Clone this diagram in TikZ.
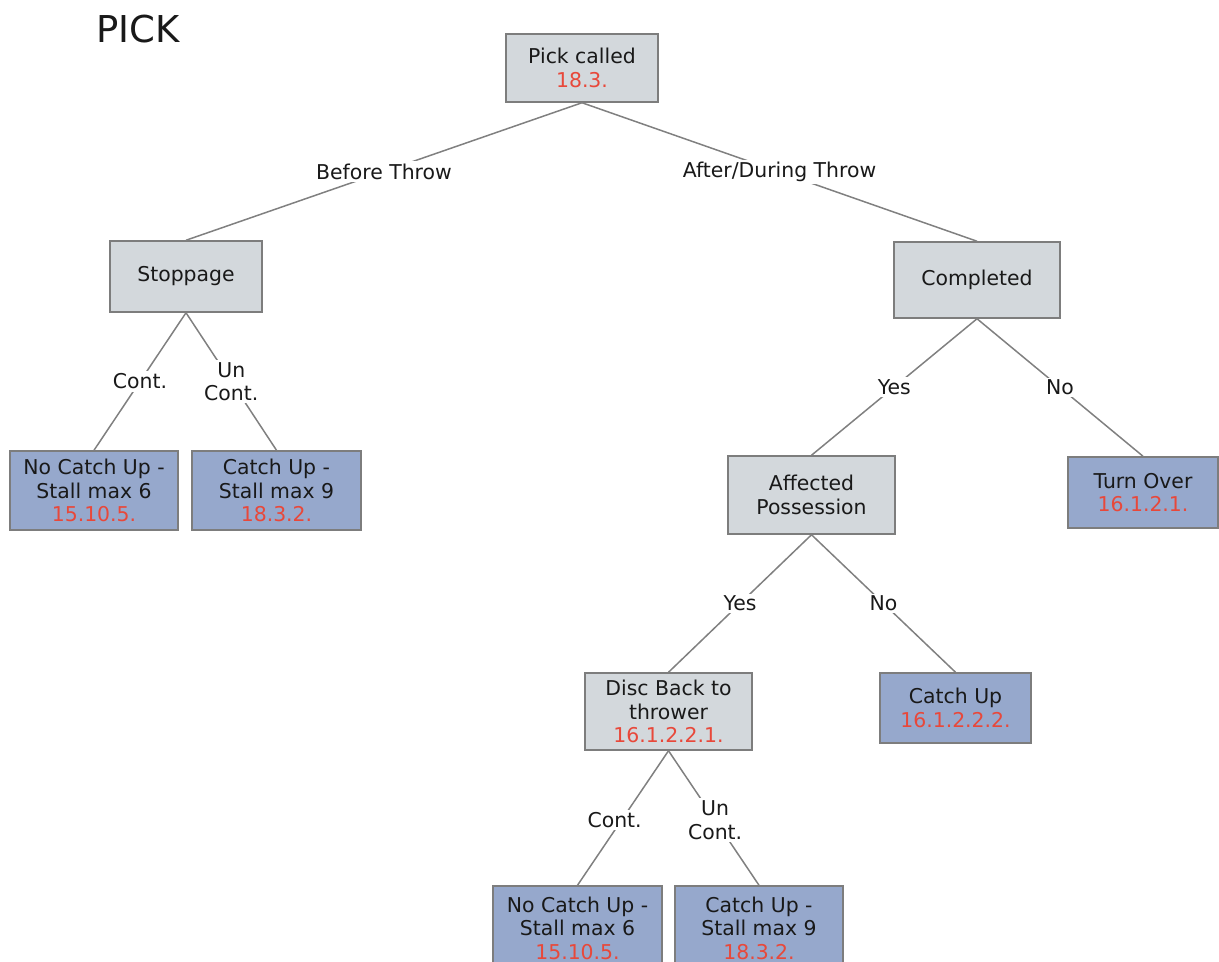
\documentclass[tikz,border=0pt]{standalone}
\usepackage{fontspec}
\setmainfont{DejaVu Sans}
\definecolor{greyfill}{RGB}{211,216,220}
\definecolor{bluefill}{RGB}{150,168,204}
\definecolor{boxline}{RGB}{125,125,125}
\definecolor{linkgrey}{RGB}{128,128,128}
\definecolor{rulered}{RGB}{232,72,58}
\definecolor{ink}{RGB}{25,25,25}
\newcommand\secnum[1]{\textcolor{rulered}{#1}}
\begin{document}
\begin{tikzpicture}[x=0.5pt,y=-0.5pt,
  box/.style={draw=boxline, line width=0.75pt, inner sep=0pt, align=center,
    text=ink, font=\fontsize{10.2}{11.75}\selectfont},
  greybox/.style={box, fill=greyfill},
  bluebox/.style={box, fill=bluefill},
  link/.style={draw=linkgrey, line width=0.75pt},
  lbl/.style={fill=white, inner sep=1.2pt, align=center, text=ink,
    font=\fontsize{10.2}{11.75}\selectfont}
]
\useasboundingbox (0,0) rectangle (1219,962);
\clip (0,0) rectangle (1219,962);

% title
\node[text=ink, font=\fontsize{18.5}{20}\selectfont, inner sep=0pt] (title) at (138,29) {PICK};

% decision and outcome boxes
\node[greybox, minimum width=76pt, minimum height=34pt] (pick) at (582,68) {Pick called\\\secnum{18.3.}};
\node[greybox, minimum width=76pt, minimum height=35.5pt] (stop) at (186,276.5) {Stoppage};
\node[greybox, minimum width=83pt, minimum height=38pt] (comp) at (977,280) {Completed};
\node[bluebox, minimum width=84pt, minimum height=39.5pt] (nocu1) at (94,490.5) {No Catch Up -\\Stall max 6\\\secnum{15.10.5.}};
\node[bluebox, minimum width=84.5pt, minimum height=39.5pt] (cu1) at (276.5,490.5) {Catch Up -\\Stall max 9\\\secnum{18.3.2.}};
\node[greybox, minimum width=83.5pt, minimum height=39pt] (aff) at (811.5,495) {Affected\\Possession};
\node[bluebox, minimum width=75pt, minimum height=35.5pt] (turn) at (1143,492.5) {Turn Over\\\secnum{16.1.2.1.}};
\node[greybox, minimum width=83.5pt, minimum height=38.5pt] (disc) at (668.5,711.5) {Disc Back to\\thrower\\\secnum{16.1.2.2.1.}};
\node[bluebox, minimum width=75.5pt, minimum height=35pt] (cu2) at (955.5,708) {Catch Up\\\secnum{16.1.2.2.2.}};
\node[bluebox, minimum width=84.5pt, minimum height=42pt] (nocu3) at (577.5,928) {No Catch Up -\\Stall max 6\\\secnum{15.10.5.}};
\node[bluebox, minimum width=84pt, minimum height=42pt] (cu3) at (759,928) {Catch Up -\\Stall max 9\\\secnum{18.3.2.}};

% connectors with their labels
\draw[link] (pick.south) -- node[lbl] {Before Throw} (stop.north);
\draw[link] (pick.south) -- node[lbl] {After/During Throw} (comp.north);
\draw[link] (stop.south) -- node[lbl] {Cont.} (nocu1.north);
\draw[link] (stop.south) -- node[lbl] {Un\\Cont.} (cu1.north);
\draw[link] (comp.south) -- node[lbl] {Yes} (aff.north);
\draw[link] (comp.south) -- node[lbl] {No} (turn.north);
\draw[link] (aff.south) -- node[lbl] {Yes} (disc.north);
\draw[link] (aff.south) -- node[lbl] {No} (cu2.north);
\draw[link] (disc.south) -- node[lbl, pos=0.515, xshift=-3.5pt] {Cont.} (nocu3.north);
\draw[link] (disc.south) -- node[lbl, pos=0.515] {Un\\Cont.} (cu3.north);
\end{tikzpicture}
\end{document}
